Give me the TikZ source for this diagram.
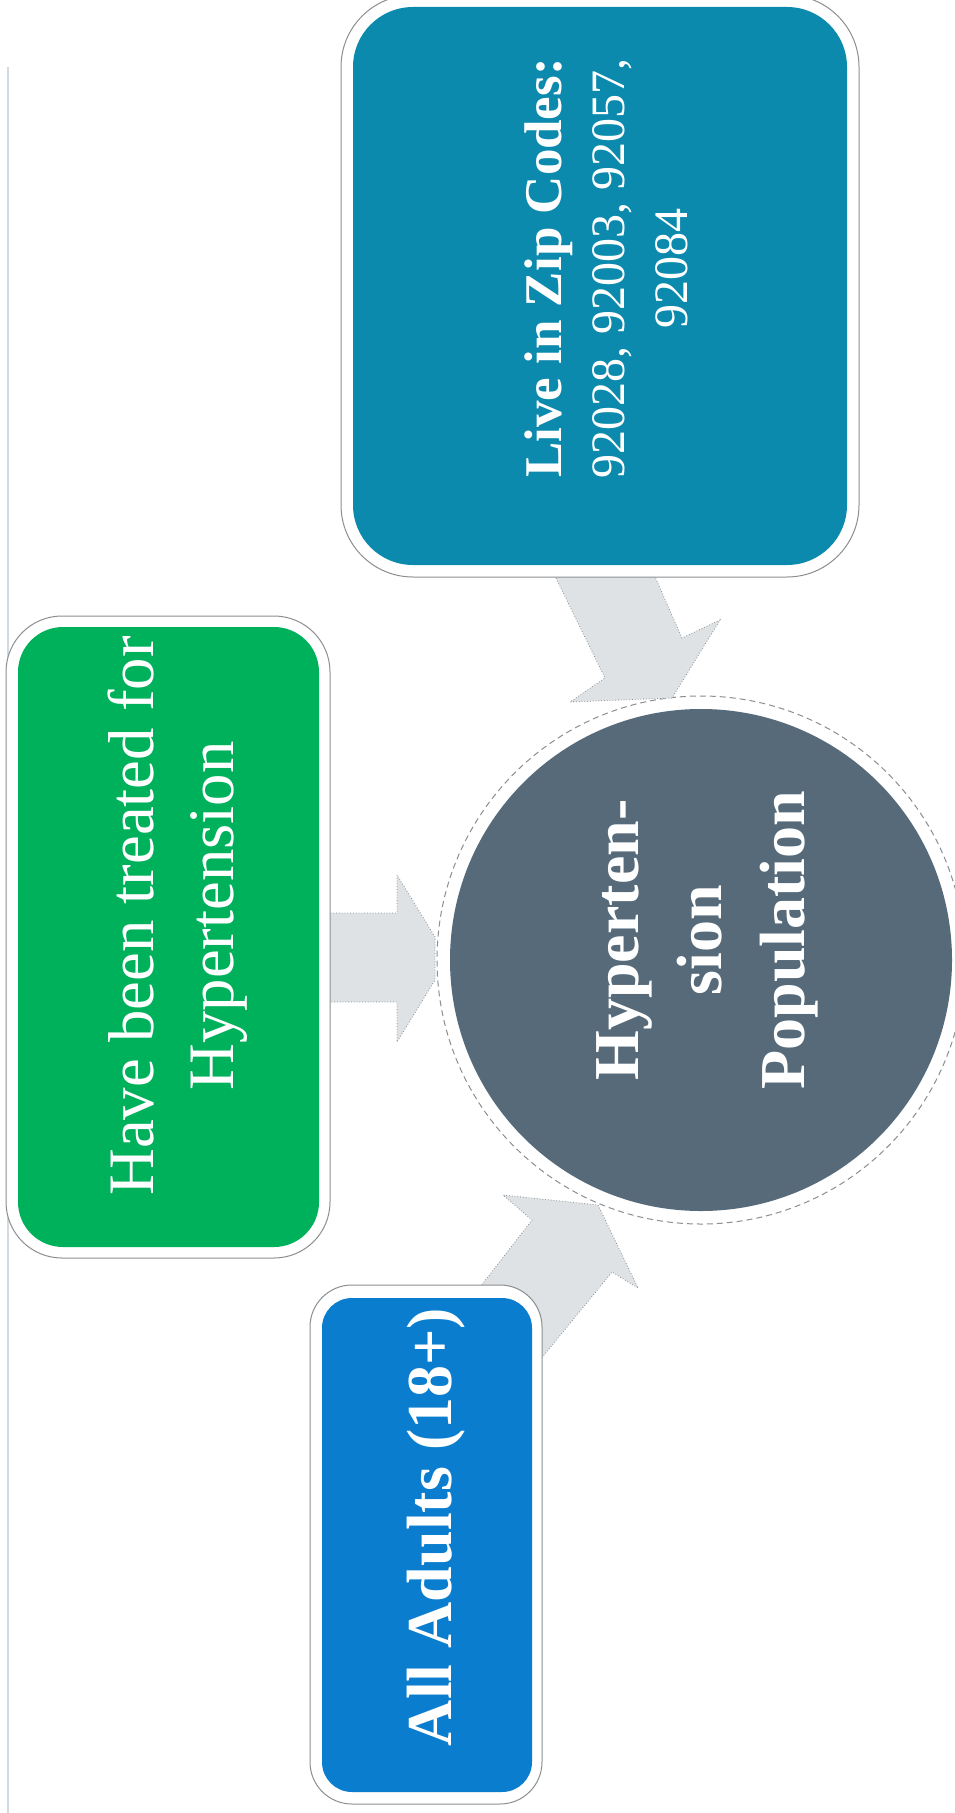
\documentclass[tikz,border=0pt]{standalone}
\usepackage{fontspec}
\setmainfont{Liberation Serif}
\definecolor{zipteal}{HTML}{0B8AAE}
\definecolor{treatgreen}{HTML}{00B15B}
\definecolor{adultblue}{HTML}{0A7DCF}
\definecolor{popgray}{HTML}{566A7A}
\definecolor{arrowgray}{HTML}{DEE2E4}
\definecolor{ringline}{HTML}{8A8F92}
\definecolor{edgeline}{HTML}{D2DADF}
\begin{document}
\begin{tikzpicture}[x=0.5pt,y=-0.5pt,
  ringbox/.style={draw=ringline, line width=0.5pt, fill=white, inner sep=0pt, outer sep=0pt},
  fillbox/.style={inner sep=0pt, outer sep=0pt, draw=none},
  boxtext/.style={text=white, align=center, rotate=90, inner sep=0pt},
  blockarrow/.style={fill=arrowgray, draw=ringline, densely dotted, line width=0.4pt}]
\useasboundingbox (0,0) rectangle (954,1813);
\fill[white] (0,0) rectangle (954,1813);
\draw[edgeline, line width=1pt] (8,67) -- (8,1813);

% central circle
\node[ringbox, circle, densely dashed, minimum size=264pt] (popring) at (701,960) {};
\node[fillbox, circle, fill=popgray, minimum size=251pt] (pop) at (701,960) {};

% block arrows
\draw[blockarrow] (552,570) -- (652,570) -- (682,638) -- (720,620) -- (672,698) -- (570,702) -- (605,678) -- cycle;
\draw[blockarrow] (325,913) -- (397,913) -- (397,875) -- (435,937) -- (435,980) -- (397,1042) -- (397,1002) -- (325,1002) -- cycle;
\draw[blockarrow] (470,1300) -- (532,1220) -- (503,1195) -- (598,1205) -- (638,1288) -- (612,1272) -- (540,1360) -- cycle;

% boxes
\node[ringbox, rectangle, rounded corners=36pt, minimum width=259pt, minimum height=291pt] (zipring) at (600,286) {};
\node[fillbox, rectangle, rounded corners=30pt, fill=zipteal, minimum width=247pt, minimum height=279pt] (zip) at (600,286) {};

\node[ringbox, rectangle, rounded corners=28pt, minimum width=162pt, minimum height=321pt] (treatring) at (168,937) {};
\node[fillbox, rectangle, rounded corners=22.5pt, fill=treatgreen, minimum width=150.5pt, minimum height=310pt] (treat) at (168.5,937) {};

\node[ringbox, rectangle, rounded corners=21pt, minimum width=116pt, minimum height=259.5pt] (adultring) at (426,1544.5) {};
\node[fillbox, rectangle, rounded corners=15pt, fill=adultblue, minimum width=105pt, minimum height=247pt] (adult) at (427,1545) {};

% texts
\node[boxtext, font=\fontsize{24}{31.5}\selectfont] (ziptext) at (606,268)
  {{\bfseries\fontsize{26.5}{31.5}\selectfont Live in Zip Codes:}\\92028, 92003, 92057,\\92084};
\node[boxtext, font=\fontsize{32.4}{40}\selectfont] (treattext) at (178,916)
  {Have been treated for\\Hypertension};
\node[boxtext, font=\bfseries\fontsize{32}{41.5}\selectfont] (poptext) at (707,940)
  {Hyperten-\\sion\\Population};
\node[boxtext, font=\bfseries\fontsize{32}{38}\selectfont] (adulttext) at (436,1527)
  {All Adults (18+)};
\end{tikzpicture}
\end{document}
